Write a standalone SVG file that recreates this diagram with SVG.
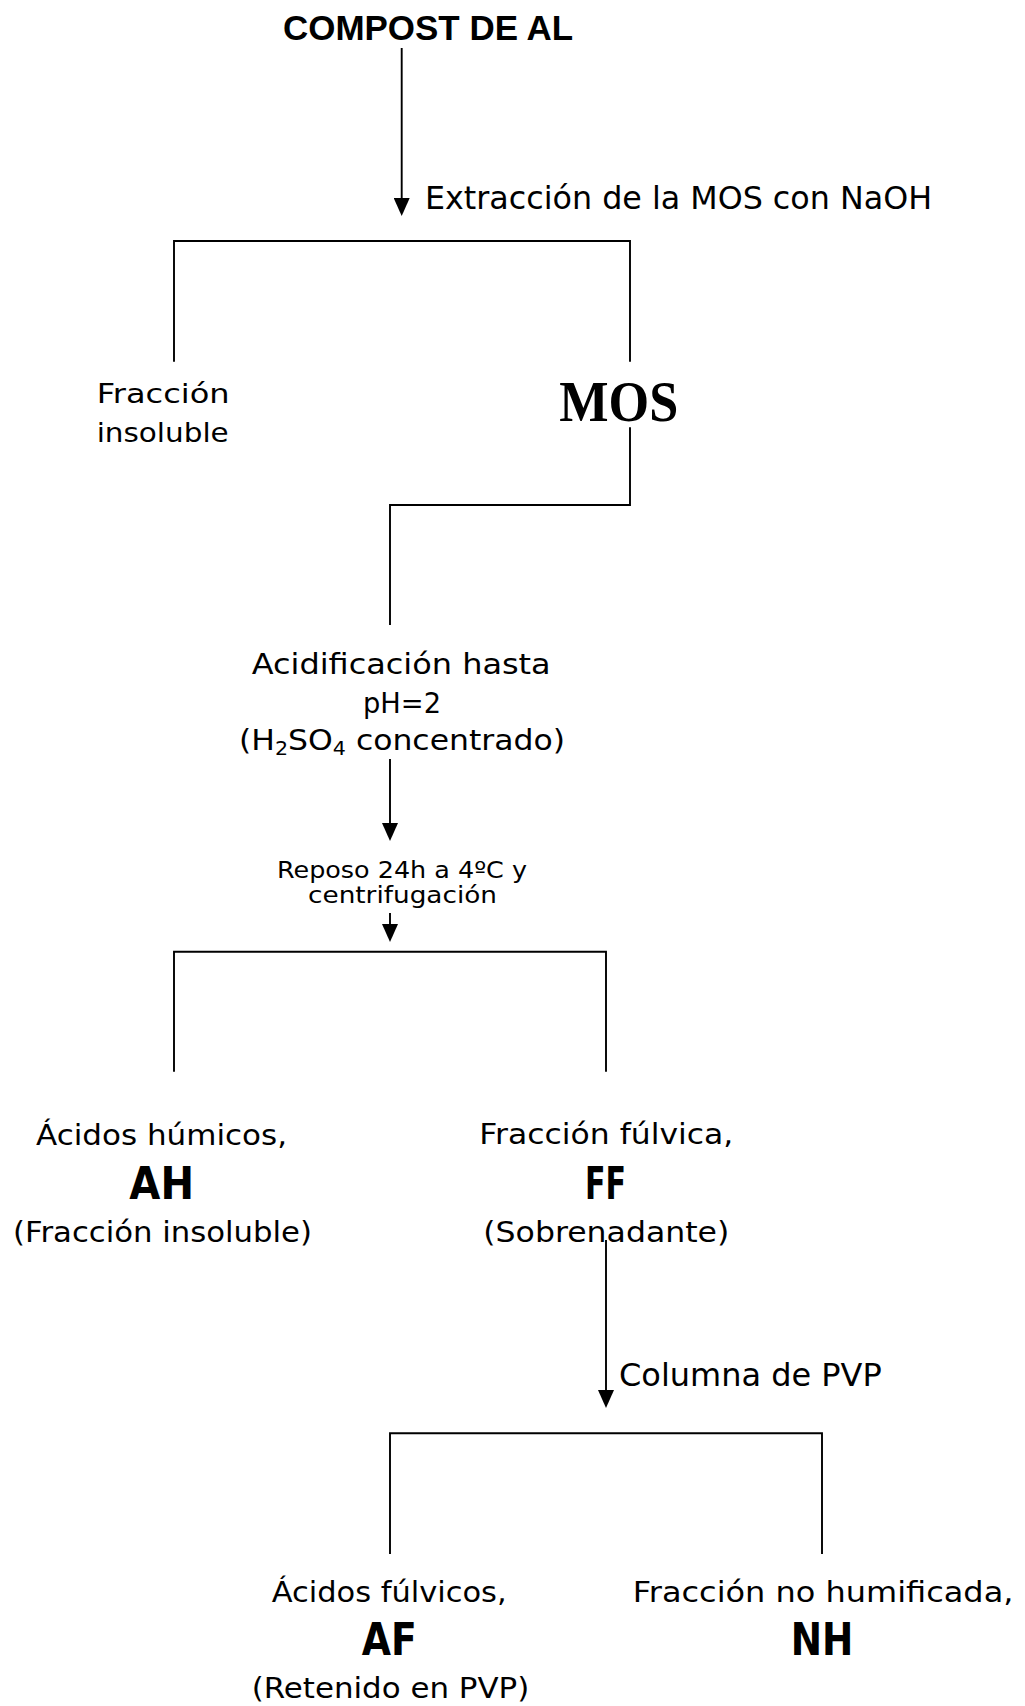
<svg xmlns="http://www.w3.org/2000/svg" width="1025" height="1706" viewBox="0 0 1025 1706">
<style>
.t{font-family:"DejaVu Sans","Liberation Sans",sans-serif;fill:#000}
.b{font-family:"DejaVu Sans","Liberation Sans",sans-serif;font-weight:bold;fill:#000}
.ln{fill:none;stroke:#000;stroke-width:1.9}
</style>
<defs>
<marker id="ah" markerUnits="userSpaceOnUse" viewBox="0 0 18 16" markerWidth="18" markerHeight="16" refX="14" refY="8" orient="auto">
<path d="M0,0 L18,8 L0,16 z" fill="#000"/>
</marker>
</defs>
<rect width="1025" height="1706" fill="#fff"/>
<g id="connectors">
<line class="ln" x1="401.7" y1="48" x2="401.7" y2="212" marker-end="url(#ah)"/>
<path class="ln" d="M174,361.7 V241 H630 V361.7"/>
<path class="ln" d="M630,427.3 V505 H390 V625"/>
<line class="ln" x1="390" y1="759" x2="390" y2="837" marker-end="url(#ah)"/>
<line class="ln" x1="390" y1="913" x2="390" y2="938" marker-end="url(#ah)"/>
<path class="ln" d="M174,1071.7 V951.7 H606 V1071.7"/>
<line class="ln" x1="606" y1="1240" x2="606" y2="1404" marker-end="url(#ah)"/>
<path class="ln" d="M390,1554 V1433.3 H822 V1554"/>
</g>
<g id="n-compost"><text x="283" y="40" font-family="Liberation Sans, Arial, sans-serif" font-weight="bold" font-size="35" textLength="290" lengthAdjust="spacingAndGlyphs">COMPOST DE AL</text></g>
<g id="l-extraccion"><text class="t" x="425" y="209" font-size="32" textLength="507" lengthAdjust="spacingAndGlyphs">Extracción de la MOS con NaOH</text></g>
<g id="n-fraccion-insoluble">
<text class="t" x="96.7" y="403.3" font-size="26.5" textLength="133" lengthAdjust="spacingAndGlyphs">Fracción</text>
<text class="t" x="96.7" y="441.7" font-size="26.5" textLength="132" lengthAdjust="spacingAndGlyphs">insoluble</text>
</g>
<g id="n-mos"><text x="559.3" y="421" font-family="Liberation Serif, Times New Roman, serif" font-weight="bold" font-size="56" textLength="119" lengthAdjust="spacingAndGlyphs">MOS</text></g>
<g id="l-acidificacion">
<text class="t" x="251.7" y="674" font-size="29" textLength="299" lengthAdjust="spacingAndGlyphs">Acidificación hasta</text>
<text class="t" x="363" y="713" font-size="29" textLength="78" lengthAdjust="spacingAndGlyphs">pH=2</text>
<text class="t" x="239" y="750" font-size="29" textLength="326" lengthAdjust="spacingAndGlyphs">(H<tspan font-size="19" dy="5">2</tspan><tspan dy="-5">SO</tspan><tspan font-size="19" dy="5">4</tspan><tspan dy="-5"> concentrado)</tspan></text>
</g>
<g id="l-reposo">
<text class="t" x="277" y="878" font-size="23" textLength="250" lengthAdjust="spacingAndGlyphs">Reposo 24h a 4ºC y</text>
<text class="t" x="308" y="903" font-size="23" textLength="189" lengthAdjust="spacingAndGlyphs">centrifugación</text>
</g>
<g id="n-ah">
<text class="t" x="36" y="1145" font-size="28.5" textLength="251" lengthAdjust="spacingAndGlyphs">Ácidos húmicos,</text>
<text class="b" x="129.3" y="1199.3" font-size="45" textLength="64.7" lengthAdjust="spacingAndGlyphs">AH</text>
<text class="t" x="13" y="1241.7" font-size="28.5" textLength="299" lengthAdjust="spacingAndGlyphs">(Fracción insoluble)</text>
</g>
<g id="n-ff">
<text class="t" x="479.3" y="1144" font-size="28.5" textLength="254" lengthAdjust="spacingAndGlyphs">Fracción fúlvica,</text>
<text class="b" x="585" y="1199.3" font-size="45" textLength="41" lengthAdjust="spacingAndGlyphs">FF</text>
<text class="t" x="483.3" y="1241.7" font-size="28.5" textLength="246" lengthAdjust="spacingAndGlyphs">(Sobrenadante)</text>
</g>
<g id="l-columna"><text class="t" x="619" y="1386" font-size="32" textLength="262.7" lengthAdjust="spacingAndGlyphs">Columna de PVP</text></g>
<g id="n-af">
<text class="t" x="271.7" y="1601.7" font-size="28.5" textLength="235" lengthAdjust="spacingAndGlyphs">Ácidos fúlvicos,</text>
<text class="b" x="361.7" y="1655" font-size="45" textLength="55" lengthAdjust="spacingAndGlyphs">AF</text>
<text class="t" x="251.7" y="1698" font-size="28.5" textLength="277.6" lengthAdjust="spacingAndGlyphs">(Retenido en PVP)</text>
</g>
<g id="n-nh">
<text class="t" x="632.7" y="1601.7" font-size="28.5" textLength="380.7" lengthAdjust="spacingAndGlyphs">Fracción no humificada,</text>
<text class="b" x="790.7" y="1655" font-size="45" textLength="62.7" lengthAdjust="spacingAndGlyphs">NH</text>
</g>
</svg>
